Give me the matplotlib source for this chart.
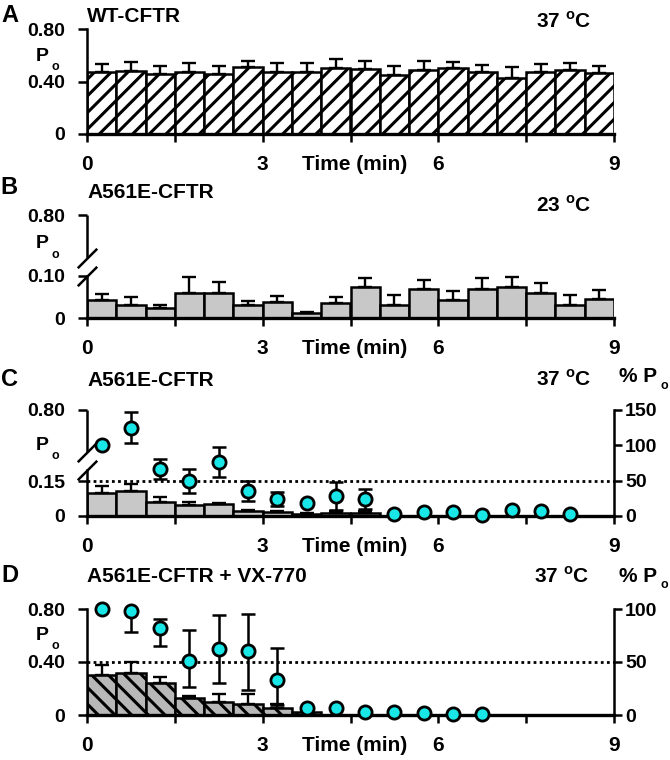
import matplotlib.pyplot as plt

plt.rcParams['font.family'] = ['Liberation Sans', 'DejaVu Sans']
plt.rcParams['font.weight'] = 'bold'
plt.rcParams['mathtext.fontset'] = 'custom'
plt.rcParams['mathtext.rm'] = 'Liberation Sans:bold'
plt.rcParams['hatch.linewidth'] = 2.2

FS = 15      # titles, x tick labels
FS_Y = 14    # y tick labels
CYAN = '#19e6e6'
GRAY = '#c8c8c8'
DGRAY = '#b8b8b8'

# centres of the 30 s bins (min)
t_mid = [0.25, 0.75, 1.25, 1.75, 2.25, 2.75, 3.25, 3.75, 4.25,
         4.75, 5.25, 5.75, 6.25, 6.75, 7.25, 7.75, 8.25, 8.75]

# A: WT-CFTR 37 C
po_a = [0.47, 0.48, 0.455, 0.475, 0.46, 0.51, 0.475, 0.475, 0.50,
        0.495, 0.45, 0.49, 0.50, 0.475, 0.43, 0.475, 0.49, 0.465]
err_a = [0.065, 0.065, 0.065, 0.065, 0.06, 0.05, 0.065, 0.065, 0.07,
         0.06, 0.07, 0.065, 0.045, 0.05, 0.08, 0.055, 0.05, 0.05]

# B: A561E-CFTR 23 C
po_b = [0.044, 0.031, 0.025, 0.06, 0.06, 0.031, 0.037, 0.011, 0.035,
        0.075, 0.031, 0.068, 0.042, 0.068, 0.073, 0.059, 0.032, 0.045]
err_b = [0.014, 0.019, 0.007, 0.038, 0.025, 0.009, 0.015, 0.004, 0.015,
         0.02, 0.024, 0.022, 0.022, 0.027, 0.025, 0.024, 0.023, 0.022]

# C: A561E-CFTR 37 C
po_c = [0.10, 0.108, 0.061, 0.047, 0.05, 0.02, 0.017, 0.01, 0.015, 0.014]
err_c = [0.029, 0.029, 0.019, 0.014, 0.007, 0.007, 0.005, 0.004, 0.006, 0.006]
pct_c = [101, 125, 66, 50, 76, 35, 24, 19, 28, 24, 3, 5, 5, 2, 8, 7, 3]
pct_c_err = [0, 22, 14, 17, 21, 14, 10, 0, 20, 14, 0, 0, 0, 0, 0, 0, 0]

# D: A561E-CFTR + VX-770 37 C
po_d = [0.305, 0.32, 0.24, 0.13, 0.097, 0.085, 0.054, 0.02]
err_d = [0.075, 0.078, 0.046, 0.016, 0.06, 0.07, 0.03, 0.01]
pct_d = [100, 98, 82, 51, 62, 60, 33, 7, 7, 2.5, 2.5, 1.5, 1, 1]
pct_d_lo = [0, 20, 17, 25, 32, 36, 24, 0, 0, 0, 0, 0, 0, 0]
pct_d_hi = [0, 0, 9, 29, 32, 35, 30, 0, 0, 0, 0, 0, 0, 0]

W, H = 670, 760
fig = plt.figure(figsize=(W / 100, H / 100), dpi=100)


def t(px, py, s, **kw):
    kw.setdefault('fontsize', FS)
    kw.setdefault('va', 'center')
    fig.text(px / W, 1 - py / H, s, **kw)


def po_label(px, py):
    # P with a low subscript o
    t(px, py, 'P', ha='center', fontsize=14)
    t(px + 13, py + 11, 'o', ha='center', fontsize=9)


def panel(top, bottom):
    # top / bottom given in pixels from the top of the figure
    ax = fig.add_axes([87 / W, 1 - bottom / H, 527 / W, (bottom - top) / H])
    ax.set_xlim(0, 9)
    ax.set_xticks([0, 1.5, 3, 4.5, 6, 7.5, 9], ['0', '', '3', '', '6', '', '9'])
    ax.set_xticks([4.57], ['Time (min)'], minor=True)
    ax.tick_params(axis='x', which='major', length=6, width=1.8, pad=9, labelsize=FS)
    ax.tick_params(axis='x', which='minor', length=0, pad=15, labelsize=FS)
    ax.tick_params(axis='y', length=6.5, width=1.8, pad=9, labelsize=FS_Y)
    ax.spines['top'].set_visible(False)
    ax.spines['right'].set_visible(False)
    ax.spines['left'].set_linewidth(1.8)
    ax.spines['bottom'].set_linewidth(2.4)
    return ax


def bars(ax, vals, errs, **kw):
    x = t_mid[:len(vals)]
    ax.bar(x, vals, width=0.5, edgecolor='k', linewidth=1.8, zorder=2, **kw)
    ax.errorbar(x, vals, yerr=[[0] * len(vals), errs], fmt='none', ecolor='k',
                elinewidth=1.7, capsize=4.7, capthick=1.7, zorder=3)


def right_axis(ax, top, ticks):
    ax2 = ax.twinx()
    ax2.set_ylim(0, top)
    ax2.set_yticks(ticks)
    ax2.tick_params(axis='y', length=6, width=1.8, pad=2, labelsize=FS_Y)
    for s in ['top', 'left', 'bottom']:
        ax2.spines[s].set_visible(False)
    ax2.spines['right'].set_linewidth(1.8)
    return ax2


def circles(ax2, vals, lo, hi):
    x = t_mid[:len(vals)]
    ax2.errorbar(x, vals, yerr=[lo, hi], fmt='none', ecolor='k',
                 elinewidth=1.8, capsize=5, capthick=1.8, zorder=3)
    ax2.plot(x, vals, 'o', ms=9.5, mfc=CYAN, mec='k', mew=2, clip_on=False, zorder=4)


def slash(ax, y):
    ax.plot([0], [y], marker=[(-1, -1), (1, 1)], markersize=14, mew=1.8,
            color='k', linestyle='none', clip_on=False)


# ---- A ----
ax = panel(29, 134)
ax.set_ylim(0, 0.80)
ax.set_yticks([0, 0.40, 0.80], ['0', '0.40', '0.80'])
bars(ax, po_a, err_a, color='white', hatch='//')
t(10, 16, 'A', fontsize=17, ha='center')
t(87, 16.5, 'WT-CFTR', ha='left')
t(591, 21, r'37 $^{\mathrm{o}}$C', ha='right')
po_label(42.5, 56.5)

# ---- B ----  lower scale 0-0.10, broken axis up to 0.80
ax = panel(215, 318)
ymax = 103 / 420
ax.set_ylim(0, ymax)
ax.spines['left'].set_bounds(0, 0.10)
ax.set_yticks([0, 0.10, ymax], ['0', '0.10', '0.80'])
ax.plot([0, 0], [60 / 420, ymax], color='k', lw=1.8, clip_on=False,
        solid_capstyle='butt')
slash(ax, 60 / 420)
slash(ax, 0.10)
bars(ax, po_b, err_b, color=GRAY)
t(9, 188, 'B', fontsize=17, ha='center')
t(87, 192, 'A561E-CFTR', ha='left')
t(591, 205, r'23 $^{\mathrm{o}}$C', ha='right')
po_label(42, 243.5)

# ---- C ----  lower scale 0-0.15, right axis % Po
ax = panel(410, 516)
k = 35 / 0.15
ymax = 106 / k
ax.set_ylim(0, ymax)
ax.spines['left'].set_bounds(0, 46 / k)
ax.set_yticks([0, 0.15, ymax], ['0', '0.15', '0.80'])
ax.plot([0, 0], [64 / k, ymax], color='k', lw=1.8, clip_on=False,
        solid_capstyle='butt')
slash(ax, 64 / k)
slash(ax, 46 / k)
bars(ax, po_c, err_c, color=GRAY)
ax2 = right_axis(ax, 150, [0, 50, 100, 150])
ax2.axhline(50, color='k', lw=2, ls=(0, (1, 1.2)), zorder=1.5)
circles(ax2, pct_c, pct_c_err, pct_c_err)
t(10, 380, 'C', fontsize=17, ha='center')
t(87, 380, 'A561E-CFTR', ha='left')
t(591, 379, r'37 $^{\mathrm{o}}$C', ha='right')
t(619, 377, '% P', ha='left')
t(664, 386, 'o', ha='center', fontsize=9)
po_label(42, 445)

# ---- D ----
ax = panel(609, 715)
ax.set_ylim(0, 0.80)
ax.set_yticks([0, 0.40, 0.80], ['0', '0.40', '0.80'])
bars(ax, po_d, err_d, color=DGRAY, hatch='\\\\')
ax2 = right_axis(ax, 100, [0, 50, 100])
ax2.axhline(50, color='k', lw=2, ls=(0, (1, 1.2)), zorder=1.5)
circles(ax2, pct_d, pct_d_lo, pct_d_hi)
t(10, 575, 'D', fontsize=17, ha='center')
t(87, 576, 'A561E-CFTR + VX-770', ha='left')
t(589, 576, r'37 $^{\mathrm{o}}$C', ha='right')
t(619, 576, '% P', ha='left')
t(664, 585, 'o', ha='center', fontsize=9)
po_label(42, 635)

fig.savefig('out.png', dpi=100)
